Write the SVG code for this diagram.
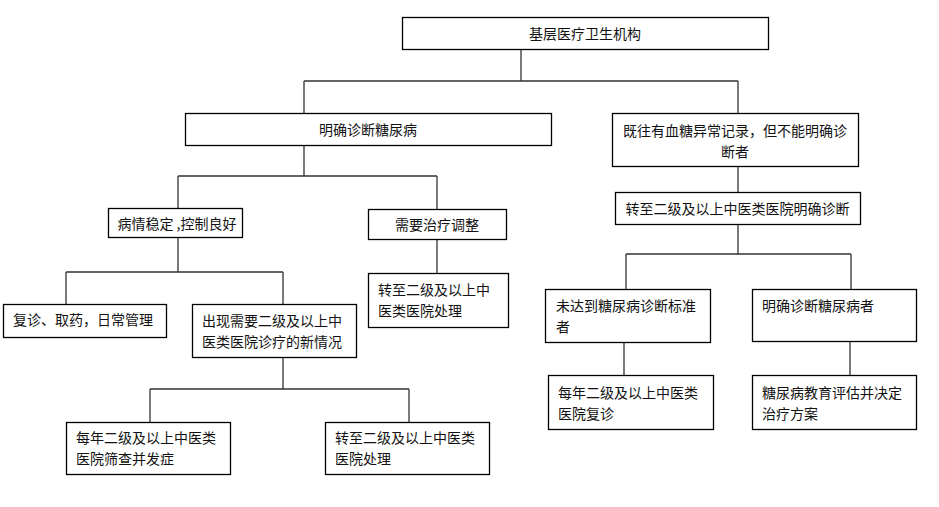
<svg xmlns="http://www.w3.org/2000/svg" width="939" height="507" viewBox="0 0 939 507">
<style>
.box{fill:#fff;stroke:#000;stroke-width:1.3}
.t{font-family:"Noto Sans CJK SC","Liberation Sans",sans-serif;font-size:14px;fill:#111}
.c{text-anchor:middle}
.ln{fill:none;stroke:#333;stroke-width:1.3}
</style>
<rect width="939" height="507" fill="#fff"/>
<g id="connectors" class="ln">
<path d="M521 49V81M304 81H738M304 81V113M738 81V113"/>
<path d="M304 145V176M178 176H437M178 176V208M437 176V209"/>
<path d="M178 237V272M66 272H283M66 272V304M283 272V304"/>
<path d="M437 239V273"/>
<path d="M283 357V389M150 389H409M150 389V422M409 389V422"/>
<path d="M738 166V192M738 224V254M626 254H851M626 254V289M851 254V289"/>
<path d="M624 342V375M850 341V375"/>
</g>
<g id="n1"><rect class="box" x="402.5" y="17.5" width="366" height="32"/><text class="t c" x="585" y="39">基层医疗卫生机构</text></g>
<g id="n2"><rect class="box" x="185.5" y="113.5" width="366" height="32"/><text class="t c" x="368" y="135">明确诊断糖尿病</text></g>
<g id="n3"><rect class="box" x="612.5" y="113.5" width="246" height="53"/><text class="t c" x="735" y="136">既往有血糖异常记录，但不能明确诊</text><text class="t c" x="735" y="157">断者</text></g>
<g id="n4"><rect class="box" x="108.5" y="208.5" width="134" height="29"/><text class="t c" x="177" y="229">病情稳定 ,控制良好</text></g>
<g id="n5"><rect class="box" x="368.5" y="209.5" width="138" height="30"/><text class="t c" x="437" y="230">需要治疗调整</text></g>
<g id="n6"><rect class="box" x="615.5" y="192.5" width="245" height="32"/><text class="t c" x="737.5" y="214">转至二级及以上中医类医院明确诊断</text></g>
<g id="n7"><rect class="box" x="3.5" y="304.5" width="163" height="33"/><text class="t" x="13" y="325">复诊、取药，日常管理</text></g>
<g id="n8"><rect class="box" x="192.5" y="304.5" width="164" height="53"/><text class="t" x="202" y="326">出现需要二级及以上中</text><text class="t" x="202" y="347">医类医院诊疗的新情况</text></g>
<g id="n9"><rect class="box" x="368.5" y="273.5" width="140" height="54"/><text class="t" x="378" y="295">转至二级及以上中</text><text class="t" x="378" y="316">医类医院处理</text></g>
<g id="n10"><rect class="box" x="66.5" y="422.5" width="164" height="52"/><text class="t" x="76" y="443">每年二级及以上中医类</text><text class="t" x="76" y="464">医院筛查并发症</text></g>
<g id="n11"><rect class="box" x="325.5" y="422.5" width="164" height="52"/><text class="t" x="335" y="443">转至二级及以上中医类</text><text class="t" x="335" y="464">医院处理</text></g>
<g id="n12"><rect class="box" x="545.5" y="289.5" width="165" height="53"/><text class="t" x="556" y="311">未达到糖尿病诊断标准</text><text class="t" x="556" y="332">者</text></g>
<g id="n13"><rect class="box" x="752.5" y="289.5" width="164" height="52"/><text class="t" x="762" y="311">明确诊断糖尿病者</text></g>
<g id="n14"><rect class="box" x="548.5" y="375.5" width="165" height="54"/><text class="t" x="558" y="398">每年二级及以上中医类</text><text class="t" x="558" y="419">医院复诊</text></g>
<g id="n15"><rect class="box" x="752.5" y="375.5" width="164" height="54"/><text class="t" x="762" y="398">糖尿病教育评估并决定</text><text class="t" x="762" y="419">治疗方案</text></g>
</svg>
